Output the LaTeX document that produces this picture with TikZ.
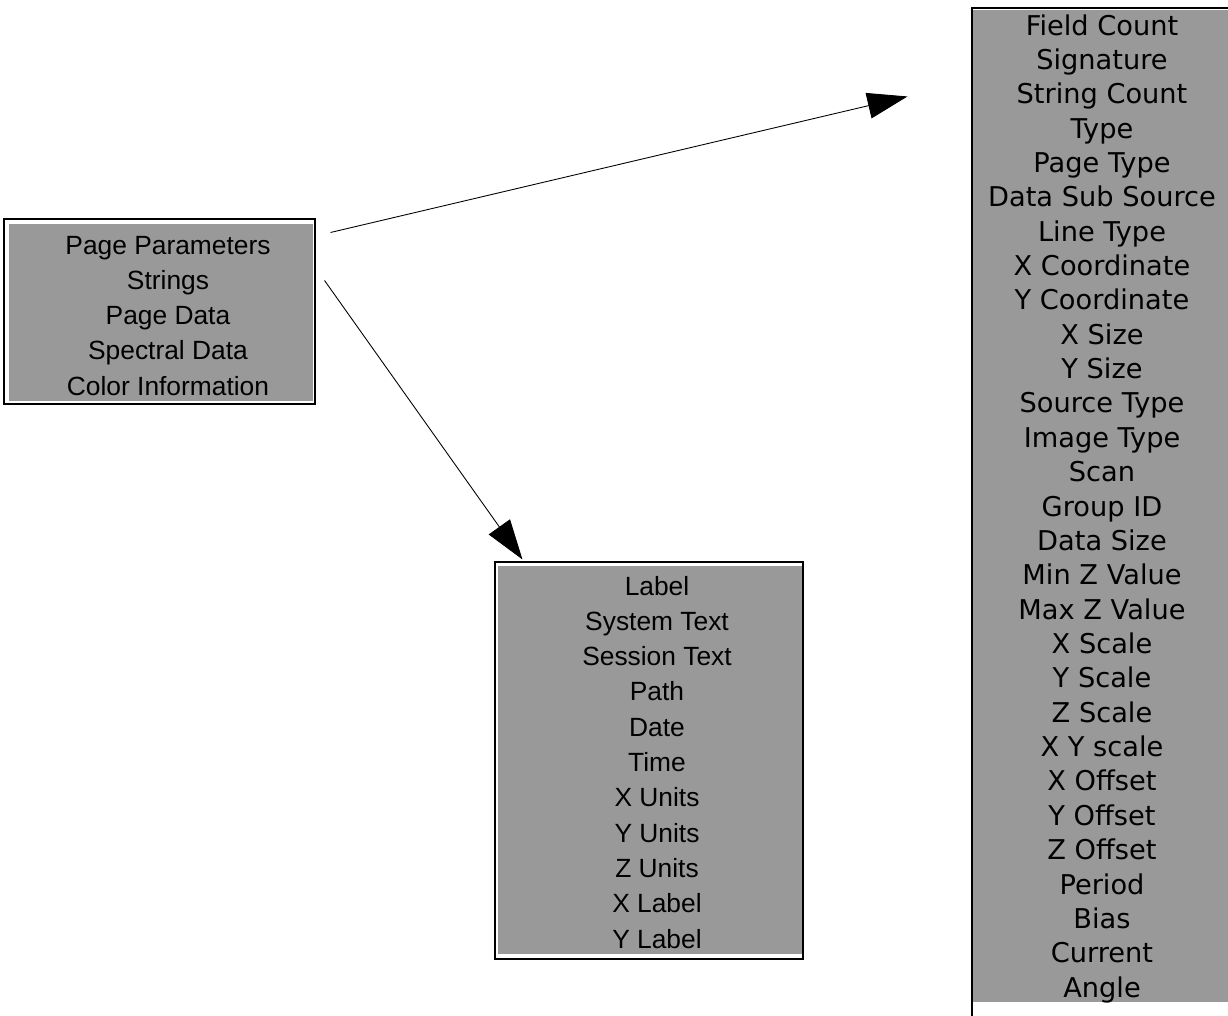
\documentclass[tikz,border=0pt]{standalone}
\usepackage{fontspec}
\setmainfont{Liberation Sans}
\newfontfamily\vfont{DejaVu Sans}
\usepackage{tikz}
\usetikzlibrary{arrows.meta,positioning}
\definecolor{fieldgray}{RGB}{153,153,153}
\newcommand{\pxu}{0.02cm}

\begin{document}
\begin{tikzpicture}[x=0.02cm,y=-0.02cm,
     frame/.style={draw=black,line width=0.6pt,fill=white,inner sep=0pt},
     shade/.style={fill=fieldgray,inner sep=0pt},
     entry/.style={anchor=base,inner sep=0pt,font=\fontsize{15}{18}\selectfont},
     ventry/.style={anchor=base,inner sep=0pt,font=\vfont\fontsize{15.5}{18}\selectfont},
     link/.style={-{Triangle[length=0.8cm,width=0.52cm]},line width=0.5pt}]
    \useasboundingbox (0,0) rectangle (1228,1015);
    % page header
    \node[frame,minimum width=311*\pxu,minimum height=185*\pxu] (header) at (159.5,311.5) {};
    \node[shade,minimum width=304*\pxu,minimum height=177*\pxu] (header-fill) at (161,312) {};
    \foreach \t [count=\i from 0] in {Page Parameters,Strings,Page Data,Spectral Data,Color Information}
      \node[entry] (hdr-\i) at (168,254+\i*35.25) {\t};
    % strings block
    \node[frame,minimum width=308*\pxu,minimum height=397*\pxu] (strings) at (649,760.5) {};
    \node[shade,minimum width=304*\pxu,minimum height=388*\pxu] (strings-fill) at (650,760) {};
    \foreach \t [count=\i from 0] in {Label,System Text,Session Text,Path,Date,Time,X Units,Y Units,Z Units,X Label,Y Label}
      \node[entry] (str-\i) at (657,595+\i*35.3) {\t};
    % page parameter record
    \node[frame,minimum width=268*\pxu,minimum height=1022*\pxu] (params) at (1106,519) {};
    \node[shade,minimum width=267*\pxu,minimum height=992*\pxu] (params-fill) at (1106.5,506) {};
    \foreach \t [count=\i from 0] in {Field Count,Signature,String Count,Type,Page Type,Data Sub Source,Line Type,X Coordinate,Y Coordinate,X Size,Y Size,Source Type,Image Type,Scan,Group ID,Data Size,Min Z Value,Max Z Value,X Scale,Y Scale,Z Scale,X Y scale,X Offset,Y Offset,Z Offset,Period,Bias,Current,Angle}
      \node[ventry] (par-\i) at (1102,35+\i*34.36) {\t};
    % arrows
    \coordinate (header-out1) at ([shift={(15,14)}]header.north east);
    \coordinate (header-out2) at ([shift={(9,62)}]header.north east);
    \coordinate (params-in) at ([shift={(-64,89)}]params.north west);
    \coordinate (strings-in) at ([shift={(28,-2)}]strings.north west);
    \draw[link] (header-out1) -- (params-in);
    \draw[link] (header-out2) -- (strings-in);
  \end{tikzpicture}
\end{document}
